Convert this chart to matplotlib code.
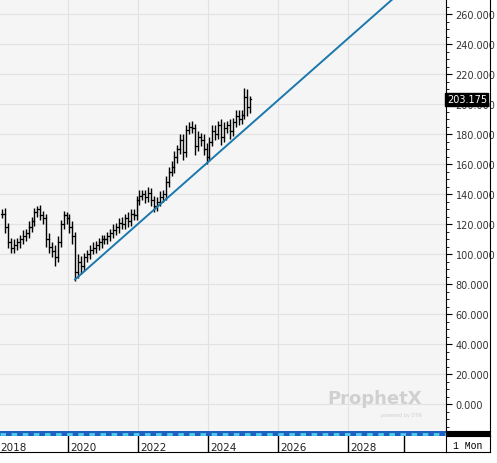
import matplotlib.pyplot as plt
import numpy as np

# monthly closes, Feb 2018 .. Mar 2025
start_year, start_month = 2018, 2
closes = [127, 118, 108, 104, 106, 108, 110, 112, 114, 118, 122,
          128, 130, 126, 124, 110, 105, 102, 98, 108, 120, 126, 124,
          118, 112, 88, 95, 92, 98, 100, 103, 104, 106, 108, 110,
          110, 112, 114, 116, 118, 121, 120, 124, 122, 127, 126, 136,
          139, 140, 138, 141, 136, 132, 135, 138, 140, 148, 155, 158,
          165, 170, 176, 168, 183, 185, 184, 172, 178, 176, 170, 165,
          175, 182, 180, 186, 178, 184, 186, 182, 188, 192, 190, 193,
          205, 198, 203.175]
up = [3, 4, 3, 3, 4, 3, 3, 4, 3, 4, 3,
      3, 2, 3, 3, 3, 4, 3, 4, 4, 3, 3, 2,
      3, 4, 3, 5, 4, 3, 3, 3, 4, 3, 3, 3,
      3, 3, 3, 4, 3, 3, 4, 3, 4, 3, 3, 3,
      4, 3, 3, 4, 3, 3, 3, 4, 3, 4, 3, 4,
      4, 3, 4, 4, 3, 3, 4, 3, 4, 3, 4, 4,
      3, 4, 4, 3, 4, 4, 3, 4, 3, 4, 4, 3,
      6, 5, 2]
dn = [3, 4, 4, 3, 3, 3, 4, 3, 3, 3, 3,
      3, 3, 3, 4, 5, 4, 4, 6, 3, 3, 3, 4,
      4, 5, 6, 4, 5, 3, 3, 3, 3, 3, 3, 4,
      3, 3, 3, 3, 3, 4, 3, 3, 4, 3, 3, 3,
      3, 3, 4, 3, 4, 4, 3, 3, 3, 4, 3, 3,
      4, 4, 3, 5, 3, 3, 3, 6, 3, 4, 4, 5,
      3, 3, 4, 3, 5, 3, 3, 5, 3, 3, 4, 3,
      3, 6, 4]
trend_start = (2020.2, 83.0)
trend_slope = 20.6
last_price = 203.175
y_ticks = list(range(0, 261, 20))
x_years = [2018, 2020, 2022, 2024, 2026, 2028]

W, H = 497, 464
fig = plt.figure(figsize=(W / 100, H / 100), dpi=100)
fig.patch.set_facecolor("white")

def box(x0, y0, x1, y1):
    return [x0 / W, 1 - y1 / H, (x1 - x0) / W, (y1 - y0) / H]

xlim = (2018.057, 2018.057 + 446 / 35)
ylim = (270 - 432 / 1.5, 270)

ax = fig.add_axes(box(0, 0, 446, 432))
ax.set_facecolor("#f5f5f5")
ax.set_xlim(*xlim)
ax.set_ylim(*ylim)
for yv in y_ticks:
    ax.axhline(yv, color="#e2e2e2", lw=0.8, zorder=0)
for xv in x_years:
    ax.axvline(xv, color="#e2e2e2", lw=0.8, zorder=0)
for s in ax.spines.values():
    s.set_visible(False)
ax.set_xticks([])
ax.set_yticks([])

opens = [closes[0]] + closes[:-1]
for i, c in enumerate(closes):
    m = start_month - 1 + i
    t = start_year + m // 12 + ((m % 12) + 0.5) / 12
    o = opens[i]
    hi = max(o, c) + up[i]
    lo = min(o, c) - dn[i]
    ax.plot([t, t], [lo, hi], color="black", lw=1.0, solid_capstyle="butt")
    ax.plot([t - 0.03, t], [o, o], color="black", lw=0.9)
    ax.plot([t, t + 0.03], [c, c], color="black", lw=0.9)

tx = np.array([trend_start[0], xlim[1]])
ax.plot(tx, trend_start[1] + trend_slope * (tx - trend_start[0]),
        color="#1a78ad", lw=1.4)

ax.text(0.84, 0.065, "ProphetX", transform=ax.transAxes, ha="center",
        fontsize=13, fontweight="bold", color="#d0d0d0")
ax.text(0.9, 0.035, "powered by DTN", transform=ax.transAxes, ha="center",
        fontsize=3.5, color="#d0d0d0")

# right price axis
ay = fig.add_axes(box(446, 0, 490, 432))
ay.set_facecolor("white")
ay.set_ylim(*ylim)
ay.set_xticks([])
ay.set_yticks(y_ticks)
ay.set_yticks(np.arange(-15, 270, 5), minor=True)
ay.set_yticklabels([f"{v:.3f}" for v in y_ticks])
ay.yaxis.tick_left()
ay.tick_params(axis="y", which="major", direction="in", length=4, pad=-7,
               labelsize=7, labelcolor="#333333")
ay.tick_params(axis="y", which="minor", direction="in", length=2)
for lab in ay.get_yticklabels():
    lab.set_horizontalalignment("left")
for s in ay.spines.values():
    s.set_color("black")
ay.spines["top"].set_visible(False)
ay.spines["bottom"].set_visible(False)
ay.text(0.02, last_price, f"{last_price:.3f}", transform=ay.get_yaxis_transform(),
        ha="left", va="center", fontsize=7, color="white", zorder=10,
        bbox=dict(boxstyle="square,pad=0.15", fc="black", ec="black"))

# timeline strip
ast = fig.add_axes(box(0, 432, 446, 437))
ast.set_xlim(*xlim)
ast.set_ylim(0, 1)
ast.axis("off")
ast.add_patch(plt.Rectangle((0, 0), 1, 1, transform=ast.transAxes, fc="#1f5fbf", zorder=0))
ast.axhline(0.5, color="#4fd0e8", lw=2, dashes=(2, 2))
ablk = fig.add_axes(box(446, 432, 490, 437))
ablk.set_facecolor("black")
ablk.set_xticks([])
ablk.set_yticks([])

# year label row
ax2 = fig.add_axes(box(0, 437, 446, 453))
ax2.set_xlim(*xlim)
ax2.set_ylim(0, 1)
ax2.set_xticks([])
ax2.set_yticks([])
for s in ["top", "left", "right"]:
    ax2.spines[s].set_visible(False)
for xv in x_years:
    ax2.axvline(xv, color="black", lw=1)
    ax2.text(xv + 0.05, 0.3, str(xv), fontsize=7.5, color="#222222", va="center")
ax2.axvline(2029.6, color="black", lw=1)

am = fig.add_axes(box(446, 437, 490, 453))
am.set_xticks([])
am.set_yticks([])
am.text(0.5, 0.45, "1 Mon", ha="center", va="center", fontsize=7,
        family="Liberation Mono", transform=am.transAxes)

fig.savefig("out.png", dpi=100)
